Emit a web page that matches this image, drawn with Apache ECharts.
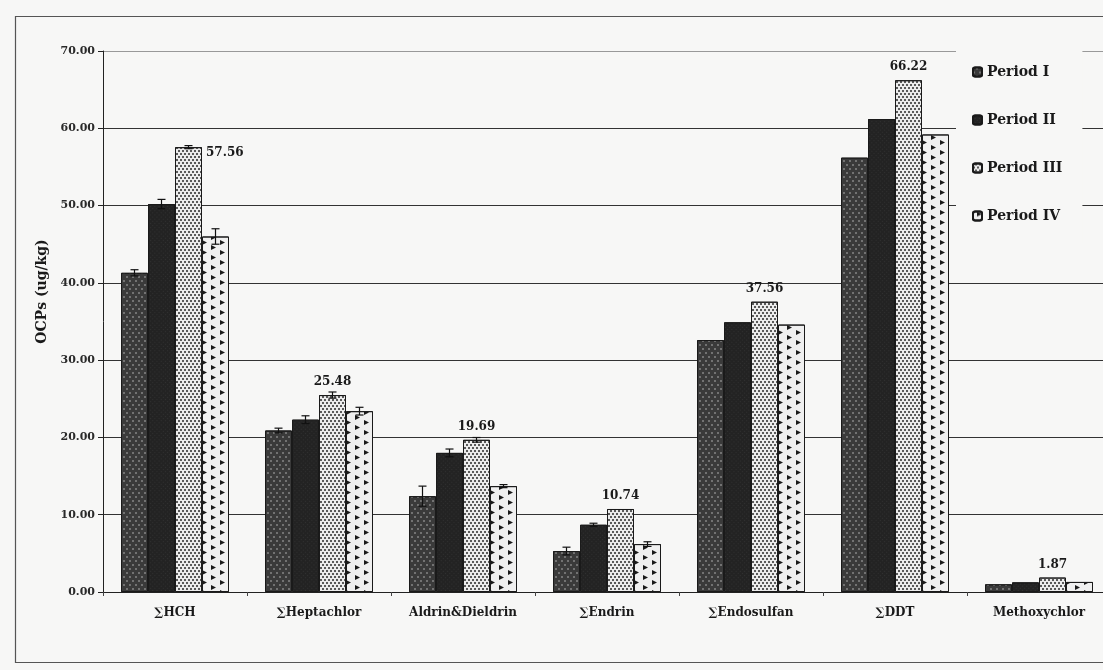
<!DOCTYPE html>
<html>
<head>
<meta charset="utf-8">
<script src="https://cdn.jsdelivr.net/npm/echarts@6/dist/echarts.min.js"></script>
<style>
html,body{margin:0;padding:0;background:#f7f7f6;overflow:hidden;width:1103px;height:670px;}
#chart{width:1150px;height:670px;}
</style>
</head>
<body>
<div id="chart"></div>
<script>
const categories = ['∑HCH', '∑Heptachlor', 'Aldrin&Dieldrin', '∑Endrin', '∑Endosulfan', '∑DDT', 'Methoxychlor'];
const seriesNames = ['Period I', 'Period II', 'Period III', 'Period IV'];
const periodI   = [41.3, 20.9, 12.4, 5.3, 32.6, 56.2, 1.0];
const periodII  = [50.2, 22.3, 18.0, 8.7, 34.9, 61.2, 1.25];
const periodIII = [57.56, 25.48, 19.69, 10.74, 37.56, 66.22, 1.87];
const periodIV  = [46.0, 23.4, 13.7, 6.2, 34.6, 59.2, 1.3];
const errI   = [0.4, 0.3, 1.3, 0.5, 0, 0, 0];
const errII  = [0.6, 0.5, 0.5, 0.2, 0, 0, 0];
const errIII = [0.2, 0.4, 0.3, 0, 0, 0, 0];
const errIV  = [1.0, 0.5, 0.2, 0.3, 0, 0, 0];
const yTicks = [0, 10, 20, 30, 40, 50, 60, 70];

const values = [periodI, periodII, periodIII, periodIV];
const errors = [errI, errII, errIII, errIV];
const font = 'DejaVu Serif';
const BAR_W = 27;

const styles = [
  { color: '#3a3a3a', decal: { symbol: 'circle', symbolSize: 0.7, color: 'rgba(230,230,230,0.9)', dashArrayX: [[2, 4], [0, 3, 2, 1]], dashArrayY: [2, 2] } },
  { color: '#232323', decal: { symbol: 'rect', symbolSize: 1, color: 'rgba(75,75,75,0.35)', dashArrayX: [1, 2], dashArrayY: [1, 2], rotation: Math.PI / 4 } },
  { color: '#ececec', decal: { symbol: 'circle', symbolSize: 1, color: '#2a2a2a', dashArrayX: [[2, 2], [0, 2, 2, 0]], dashArrayY: [2, 1] } },
  { color: '#f0f0f0', decal: { symbol: 'triangle', symbolSize: 1, color: '#1a1a1a', dashArrayX: [[5, 5], [0, 5, 5, 0]], dashArrayY: [5, 4], rotation: Math.PI / 2 } }
];

const barSeries = values.map((vals, i) => {
  const s = {
    name: seriesNames[i],
    type: 'bar',
    barWidth: BAR_W,
    barGap: '0%',
    data: vals.slice(),
    itemStyle: { color: styles[i].color, decal: styles[i].decal, borderColor: '#1a1a1a', borderWidth: 1 },
    emphasis: { disabled: true },
    z: 3
  };
  if (i === 2) {
    s.data = vals.map((v, k) => {
      if (k === 0) {
        return { value: v, label: { position: ['100%', 0], offset: [4, 0], align: 'left', verticalAlign: 'top' } };
      }
      return v;
    });
    s.label = {
      show: true, position: 'top', distance: 7,
      fontFamily: font, fontWeight: 'bold', fontSize: 12, color: '#1a1a1a',
      formatter: p => Number(p.value).toFixed(2)
    };
  }
  return s;
});

const errData = [];
values.forEach((vals, i) => {
  vals.forEach((v, k) => {
    if (errors[i][k] > 0) errData.push([k, v, errors[i][k], i]);
  });
});

const errSeries = {
  type: 'custom',
  name: 'err',
  z: 5,
  silent: true,
  data: errData,
  renderItem: function (params, api) {
    const k = api.value(0), v = api.value(1), e = api.value(2), si = api.value(3);
    const off = (si - 1.5) * BAR_W;
    const top = api.coord([k, v + e]);
    const bot = api.coord([k, v - e]);
    const x = top[0] + off;
    const cap = 4;
    const st = { stroke: '#111', lineWidth: 1.2 };
    return {
      type: 'group',
      children: [
        { type: 'line', shape: { x1: x, y1: top[1], x2: x, y2: bot[1] }, style: st },
        { type: 'line', shape: { x1: x - cap, y1: top[1], x2: x + cap, y2: top[1] }, style: st },
        { type: 'line', shape: { x1: x - cap, y1: bot[1], x2: x + cap, y2: bot[1] }, style: st }
      ]
    };
  }
};

const chart = echarts.init(document.getElementById('chart'), null, { renderer: 'canvas' });
chart.setOption({
  backgroundColor: '#f7f7f6',
  animation: false,
  graphic: [{
    type: 'rect', left: 13, top: 14, z: -10, silent: true,
    shape: { width: 1130, height: 646 },
    style: { fill: 'none', stroke: '#555', lineWidth: 1.2 }
  }],
  legend: {
    data: seriesNames,
    orient: 'vertical',
    left: 956,
    top: 50,
    padding: [15, 20, 20, 16],
    itemGap: 34,
    itemWidth: 9,
    itemHeight: 9,
    backgroundColor: '#f7f7f6',
    z: 10,
    textStyle: { fontFamily: font, fontWeight: 'bold', fontSize: 14, color: '#1a1a1a' }
  },
  grid: { left: 103, top: 51, width: 1008, height: 541, containLabel: false },
  xAxis: {
    type: 'category',
    data: categories,
    axisLine: { show: true, lineStyle: { color: '#222', width: 1 } },
    axisTick: { show: true, inside: false, length: 4, lineStyle: { color: '#444' } },
    axisLabel: { interval: 0, margin: 15, fontFamily: font, fontWeight: 'bold', fontSize: 12, color: '#1a1a1a' }
  },
  yAxis: {
    type: 'value',
    min: yTicks[0],
    max: yTicks[yTicks.length - 1],
    interval: 10,
    name: 'OCPs (ug/kg)',
    nameLocation: 'middle',
    nameGap: 54,
    nameMoveOverlap: false,
    nameRotate: 90,
    nameTextStyle: { fontFamily: font, fontWeight: 'bold', fontSize: 14, color: '#1a1a1a', padding: [0, 0, 0, 60] },
    axisLine: { show: true, lineStyle: { color: '#222', width: 1 } },
    axisTick: { show: true, inside: false, length: 5, lineStyle: { color: '#222' } },
    axisLabel: { margin: 8, fontFamily: font, fontWeight: 'bold', fontSize: 11, color: '#2a2a2a', formatter: v => v.toFixed(2) },
    splitLine: { show: true, lineStyle: { color: ['#333', '#333', '#333', '#333', '#333', '#333', '#333', '#999'], width: 1 } }
  },
  series: barSeries.concat([errSeries])
});
</script>
</body>
</html>
